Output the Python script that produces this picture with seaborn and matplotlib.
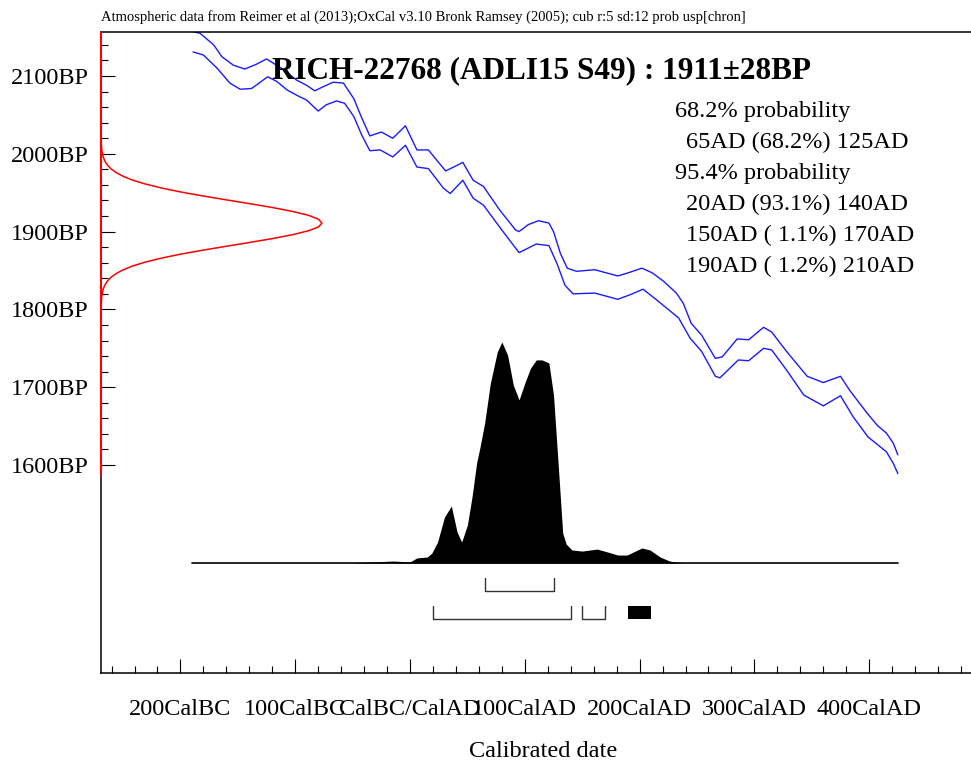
"""OxCal style calibration plot for RICH-22768 (ADLI15 S49)."""

import matplotlib

matplotlib.use("Agg")
import matplotlib.pyplot as plt
import numpy as np
import pandas as pd
import seaborn as sns

# calibration curve (+1 sigma / -1 sigma edges): calendar year (AD>0, BC<0) vs radiocarbon BP
upper_year = [-189, -183, -171, -164, -154, -144, -134, -125, -112, -99, -90, -83, -76, -67, -58,
              -49, -42, -35, -25, -15, -4, 6, 16, 31, 38, 46, 55, 64, 78, 92, 95, 103, 112, 121,
              125, 131, 137, 145, 161, 171, 181, 190, 202, 211, 221, 232, 238, 245, 254, 266,
              272, 285, 295, 308, 315, 328, 346, 360, 375, 383, 398, 407, 415, 421, 425]
upper_bp = [2157, 2155, 2140, 2125, 2114, 2109, 2115, 2122, 2110, 2095, 2088, 2081, 2086, 2092, 2091,
            2071, 2046, 2023, 2028, 2020, 2036, 2005, 2005, 1978, 1983, 1989, 1966, 1958, 1928, 1902,
            1900, 1909, 1914, 1911, 1900, 1872, 1853, 1849, 1851, 1847, 1843, 1847, 1853, 1847, 1836,
            1821, 1808, 1782, 1767, 1737, 1739, 1762, 1761, 1777, 1771, 1746, 1714, 1706, 1714, 1696,
            1667, 1651, 1641, 1628, 1613]
lower_year = [-189, -180, -168, -157, -148, -138, -124, -116, -107, -97, -90, -80, -73, -64, -57,
              -49, -42, -35, -26, -15, -4, 6, 16, 29, 35, 46, 55, 64, 80, 95, 110, 121, 128, 135,
              142, 161, 181, 192, 203, 215, 234, 244, 254, 266, 270, 286, 295, 308, 315, 328, 343,
              360, 375, 386, 399, 415, 421, 425]
lower_bp = [2131, 2127, 2110, 2091, 2083, 2084, 2099, 2093, 2082, 2074, 2069, 2055, 2063, 2068, 2065,
            2048, 2024, 2004, 2005, 1996, 2011, 1983, 1981, 1956, 1949, 1966, 1943, 1934, 1902, 1873,
            1884, 1882, 1859, 1831, 1820, 1821, 1813, 1819, 1826, 1812, 1789, 1763, 1746, 1714, 1712,
            1735, 1734, 1750, 1748, 1722, 1690, 1676, 1689, 1662, 1636, 1617, 1602, 1589]

# radiocarbon measurement 1911+-28 BP (relative density)
meas_bp = [2021, 2016, 2011, 2006, 2001, 1996, 1991, 1986, 1981, 1976, 1971, 1966, 1961, 1956, 1951,
           1946, 1941, 1936, 1931, 1926, 1921, 1916, 1911, 1906, 1901, 1896, 1891, 1886, 1881, 1876,
           1871, 1866, 1861, 1856, 1851, 1846, 1841, 1836, 1831, 1826, 1821, 1816, 1811, 1806, 1801]
meas_dens = [0.000, 0.001, 0.002, 0.003, 0.006, 0.010, 0.017, 0.028, 0.044, 0.068, 0.101, 0.145,
             0.203, 0.275, 0.360, 0.458, 0.563, 0.671, 0.775, 0.866, 0.938, 0.984, 1.000, 0.984,
             0.938, 0.866, 0.775, 0.671, 0.563, 0.458, 0.360, 0.275, 0.203, 0.145, 0.101, 0.068,
             0.044, 0.028, 0.017, 0.010, 0.006, 0.003, 0.002, 0.001, 0.000]

# calibrated date (relative probability)
cal_year = [-190, -100, -52, -15, 0, 6, 15, 19, 24, 30, 36, 41, 45, 50, 54, 58, 61, 65, 70, 76,
            80, 85, 90, 95, 100, 105, 110, 115, 121, 125, 129, 133, 136, 141, 150, 163, 172, 181,
            189, 202, 209, 218, 226, 238, 425]
cal_prob = [0.0, 0.0, 0.0, 0.009, 0.005, 0.023, 0.027, 0.045, 0.095, 0.208, 0.258, 0.140, 0.095,
            0.172, 0.299, 0.452, 0.525, 0.633, 0.814, 0.955, 1.0, 0.941, 0.805, 0.738, 0.814, 0.882,
            0.919, 0.919, 0.905, 0.760, 0.452, 0.136, 0.086, 0.059, 0.054, 0.063, 0.050, 0.036,
            0.036, 0.068, 0.059, 0.027, 0.009, 0.0, 0.0]

range68 = [(65, 125)]
range95 = [(20, 140), (150, 170), (190, 210)]

title = "RICH-22768 (ADLI15 S49) : 1911\u00b128BP"
header = ("Atmospheric data from Reimer et al (2013);OxCal v3.10 Bronk Ramsey (2005); "
          "cub r:5 sd:12 prob usp[chron]")
range_lines = ["68.2% probability", "  65AD (68.2%) 125AD", "95.4% probability",
               "  20AD (93.1%) 140AD", "  150AD ( 1.1%) 170AD", "  190AD ( 1.2%) 210AD"]
bp_ticks = [1600, 1700, 1800, 1900, 2000, 2100]
year_ticks = [-200, -100, 0, 100, 200, 300, 400]
year_labels = ["200CalBC", "100CalBC", "CalBC/CalAD", "100CalAD", "200CalAD", "300CalAD", "400CalAD"]

W, H = 971, 764


def fig_xy(px, py):
    return px / W, 1 - py / H


sns.set_theme(style="white")
plt.rcParams["font.family"] = ["Liberation Serif", "DejaVu Serif"]
plt.rcParams["text.color"] = "black"

fig = plt.figure(figsize=(W / 100, H / 100), dpi=100)
ax = fig.add_axes([101 / W, 91 / H, 870 / W, 641 / H])
ax.set_xlim(-269.2, 488.7)
ax.set_ylim(1332.6, 2156.6)

# calibration curve
sns.lineplot(x=upper_year, y=upper_bp, ax=ax, color="#1a1aff", lw=1.0, sort=False, estimator=None)
sns.lineplot(x=lower_year, y=lower_bp, ax=ax, color="#1a1aff", lw=1.0, sort=False, estimator=None)

# axes styling
for side in ["left", "bottom", "top"]:
    ax.spines[side].set_color("black")
    ax.spines[side].set_linewidth(1.1)
ax.spines["right"].set_visible(False)
ax.set_xticks(year_ticks)
ax.set_xticklabels(year_labels)
ax.set_xticks(np.arange(-260, 481, 20), minor=True)
ax.set_yticks(bp_ticks)
ax.set_yticklabels([f"{v}BP" for v in bp_ticks])
ax.set_yticks(np.arange(1600, 2141, 20), minor=True)
ax.tick_params(axis="both", which="major", direction="in", length=10, width=0.8, color="black",
               labelsize=17.5, labelcolor="black")
ax.tick_params(axis="both", which="minor", direction="in", length=5, width=0.8, color="black")
ax.tick_params(axis="x", which="major", pad=19, top=False)
ax.tick_params(axis="y", which="major", pad=9, right=False)
ax.tick_params(axis="x", which="minor", top=False)
ax.tick_params(axis="y", which="minor", right=False)
ax.set_xlabel("")
ax.set_ylabel("")
ax.grid(False)

# calibrated distribution and ranges
ax_d = ax.twinx()
ax_d.set_ylim(-0.4977, 2.4027)
ax_d.axis("off")
cal_df = pd.DataFrame({"year": cal_year, "prob": cal_prob})
ax_d.fill_between(cal_df["year"], 0, cal_df["prob"], color="black", lw=0)
ax_d.plot([cal_df["year"].min(), cal_df["year"].max()], [0, 0], color="black", lw=1.2)

for a, b in range68:
    ax_d.plot([a, a, b, b], [-0.068, -0.127, -0.127, -0.068], color="#333333", lw=1.0)
for i, (a, b) in enumerate(range95):
    if i == len(range95) - 1:
        ax_d.fill_between([a, b], -0.253, -0.193, color="black", lw=0)
    else:
        ax_d.plot([a, a, b, b], [-0.193, -0.253, -0.253, -0.193], color="#333333", lw=1.0)

# radiocarbon measurement on the left
ax_r = ax.twiny()
ax_r.set_xlim(0, 870 / 221)
ax_r.axis("off")
sns.lineplot(x=meas_dens, y=meas_bp, ax=ax_r, color="red", lw=1.1, sort=False, estimator=None)
ax_r.plot([0, 0], [min(lower_bp), 2156.6], color="red", lw=1.5, clip_on=False)
ax_r.set_ylim(1332.6, 2156.6)

# texts
fig.text(*fig_xy(101, 21), header, fontsize=10.5, va="baseline", ha="left")
fig.text(*fig_xy(272, 78), title, fontsize=22.5, fontweight="bold", va="baseline", ha="left")
line_x = [675, 686, 675, 686, 686, 686]
for i, (txt, lx) in enumerate(zip(range_lines, line_x)):
    fig.text(*fig_xy(lx, 117 + i * 31), txt.strip(), fontsize=17.5, va="baseline", ha="left")
fig.text(*fig_xy(543, 757), "Calibrated date", fontsize=17.5, va="baseline", ha="center")

fig.savefig("out.png", dpi=100)
plt.close(fig)
